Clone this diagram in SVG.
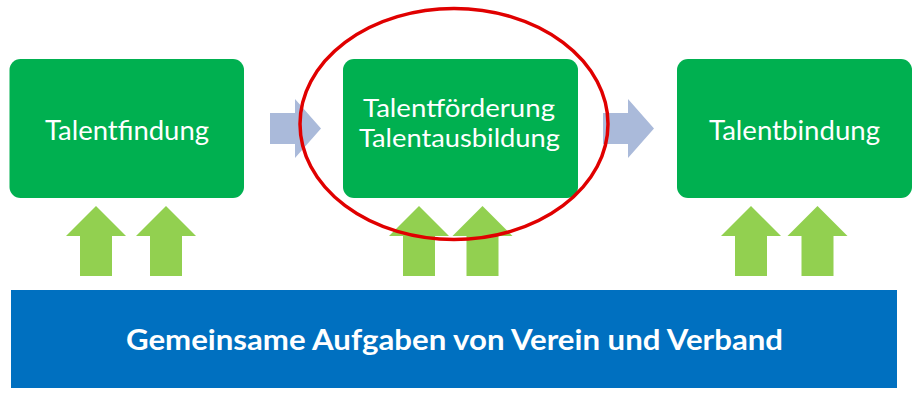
<svg xmlns="http://www.w3.org/2000/svg" xmlns:xlink="http://www.w3.org/1999/xlink" width="920" height="404" viewBox="0 0 920 404">
  <style>
    .box { fill: #00B050; }
    .boxtxt { font-family: Lato, "Open Sans", sans-serif; font-size: 26px; fill: #FFFFFF; text-anchor: middle; }
    .boxtxt2 { font-family: Lato, "Open Sans", sans-serif; font-size: 25px; fill: #FFFFFF; text-anchor: middle; }
    .bartxt { font-family: Lato, "Open Sans", sans-serif; font-size: 28.5px; font-weight: bold; fill: #FFFFFF; text-anchor: middle; }
    .up { fill: #92D050; }
    .right { fill: #AABADA; }
  </style>
  <defs>
    <path id="uparrow" d="M0,0 L30,30 L16,30 L16,70 L-16,70 L-16,30 L-30,30 Z"/>
    <path id="rightarrow" d="M0,14 L25,14 L25,0 L51,29.5 L25,59 L25,45 L0,45 Z"/>
  </defs>
  <rect width="920" height="404" fill="#FFFFFF"/>

  <g id="connectors">
    <use xlink:href="#rightarrow" href="#rightarrow" class="right" x="270" y="99"/>
    <use xlink:href="#rightarrow" href="#rightarrow" class="right" x="603" y="99"/>
    <use xlink:href="#uparrow" href="#uparrow" class="up" x="96" y="206"/>
    <use xlink:href="#uparrow" href="#uparrow" class="up" x="166" y="206"/>
    <use xlink:href="#uparrow" href="#uparrow" class="up" x="419" y="206"/>
    <use xlink:href="#uparrow" href="#uparrow" class="up" x="482.5" y="206"/>
    <use xlink:href="#uparrow" href="#uparrow" class="up" x="751" y="206"/>
    <use xlink:href="#uparrow" href="#uparrow" class="up" x="817.5" y="206"/>
  </g>

  <g id="node-talentfindung">
    <rect class="box" x="9.5" y="59" width="234.5" height="139" rx="11"/>
    <text class="boxtxt" x="127" y="139.5" textLength="164" lengthAdjust="spacingAndGlyphs">Talentfindung</text>
  </g>

  <g id="node-talentfoerderung">
    <rect class="box" x="343" y="59" width="235" height="139" rx="11"/>
    <text class="boxtxt2" x="459" y="117" textLength="192" lengthAdjust="spacingAndGlyphs">Talentförderung</text>
    <text class="boxtxt2" x="459.5" y="147" textLength="201" lengthAdjust="spacingAndGlyphs">Talentausbildung</text>
  </g>

  <g id="node-talentbindung">
    <rect class="box" x="677" y="59" width="235" height="139" rx="11"/>
    <text class="boxtxt" x="794.5" y="139.5" textLength="171" lengthAdjust="spacingAndGlyphs">Talentbindung</text>
  </g>

  <g id="node-gemeinsame-aufgaben">
    <rect x="11" y="290" width="886" height="98" fill="#0070C0"/>
    <text class="bartxt" x="454.5" y="350" textLength="657" lengthAdjust="spacingAndGlyphs">Gemeinsame Aufgaben von Verein und Verband</text>
  </g>

  <g id="highlight">
    <ellipse cx="454" cy="124" rx="154" ry="115.5" fill="none" stroke="#E00000" stroke-width="3.5"/>
  </g>
</svg>
